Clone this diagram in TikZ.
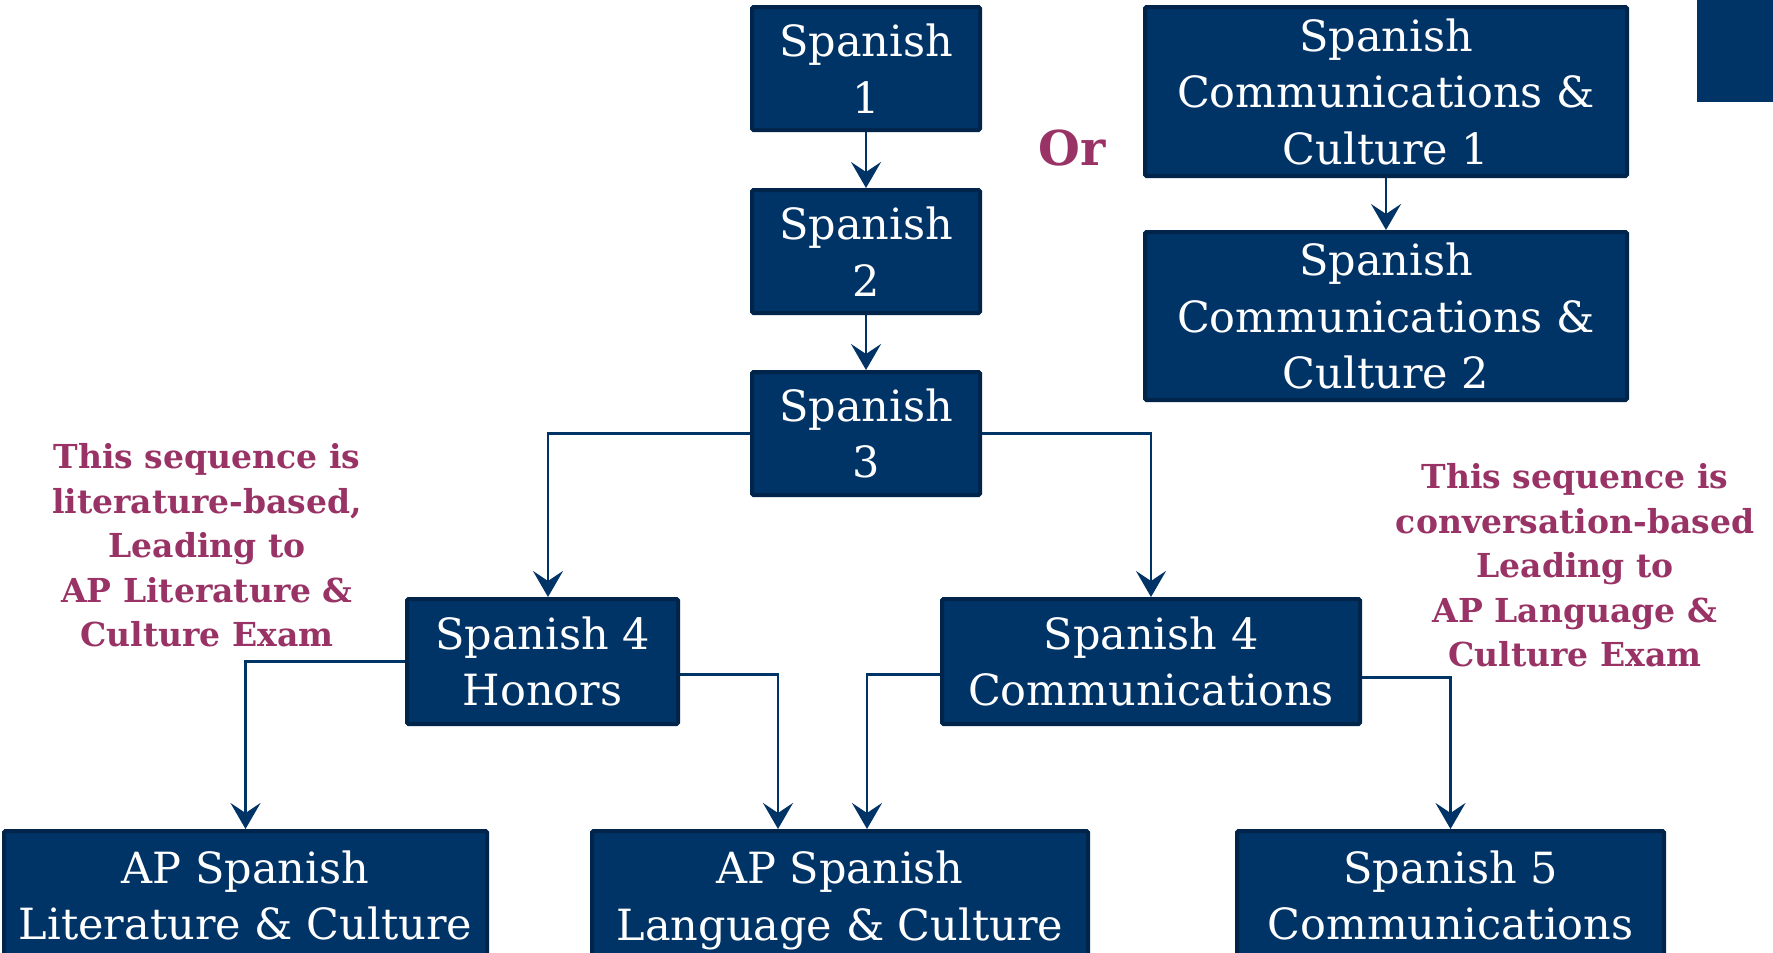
\documentclass[tikz,border=0pt]{standalone}
\usepackage{fontspec}
\setmainfont{DejaVu Serif}
\usetikzlibrary{arrows.meta}
\definecolor{navy}{RGB}{0,51,102}
\definecolor{navyedge}{RGB}{0,36,74}
\definecolor{plum}{RGB}{153,51,102}
\newcommand\nodepth[1]{\raisebox{0pt}[\height][0pt]{#1}}
\tikzset{
  course/.style={draw=navyedge, line width=4pt, fill=navy, rounded corners=1.5pt,
    text=white, align=center, inner sep=0pt,
    font=\fontsize{43}{56.5}\selectfont},
  link/.style={draw=navy, line width=2.5pt,
    -{Stealth[length=26pt,width=30pt,inset=10pt]}},
  note/.style={text=plum, align=center, font=\bfseries\fontsize{33}{44.5}\selectfont}
}
\begin{document}
\begin{tikzpicture}[x=1pt,y=-1pt]
\useasboundingbox (0,0) rectangle (1773,953);
\clip (0,0) rectangle (1773,953);
\fill[white] (0,0) rectangle (1773,953);
% corner block
\fill[navy] (1697,0) rectangle (1773,102);
% courses
\node[course, minimum width=228pt, minimum height=123pt] (s1) at (866,68.5) {Spanish\\1};
\node[course, minimum width=228pt, minimum height=123pt] (s2) at (866,251.5) {Spanish\\2};
\node[course, minimum width=228pt, minimum height=123pt] (s3) at (866,433.5) {Spanish\\3};
\node[course, minimum width=482pt, minimum height=169pt] (c1) at (1386,91.5) {Spanish\\Communications \&\\Culture 1};
\node[course, minimum width=482pt, minimum height=168pt] (c2) at (1386,316) {Spanish\\Communications \&\\Culture 2};
\node[course, minimum width=271pt, minimum height=125pt] (h4) at (542.5,661.5) {Spanish 4\\Honors};
\node[course, minimum width=418pt, minimum height=125pt] (c4) at (1151,661.5) {Spanish 4\\Communications};
\node[course, minimum width=483pt, minimum height=129pt] (apl) at (245.5,895.5) {AP Spanish\\Literature \& Culture};
\node[course, minimum width=496pt, minimum height=129pt] (apg) at (840,895.5) {AP Spanish\\\nodepth{Language \& Culture}};
\node[course, minimum width=427pt, minimum height=129pt] (s5) at (1450.5,895.5) {Spanish 5\\Communications};
% labels
\node[note, font=\bfseries\fontsize{48}{50}\selectfont] (or) at (1072,148) {Or};
\node[note] (lnote) at (207,545.5) {This sequence is\\literature-based,\\Leading to\\AP Literature \&\\Culture Exam};
\node[note] (rnote) at (1575,565.5) {This sequence is\\conversation-based\\Leading to\\AP Language \&\\Culture Exam};
% connectors
\draw[link] (s1.south) -- (s2.north);
\draw[link] (s2.south) -- (s3.north);
\draw[link] (c1.south) -- (c2.north);
\draw[link] (s3.west) -| ([xshift=5.5pt]h4.north);
\draw[link] (s3.east) -| (c4.north);
\draw[link] (h4.west) -| (apl.north);
\draw[link] ([yshift=-13pt]h4.east) -| ([xshift=-62pt]apg.north);
\draw[link] ([yshift=-13pt]c4.west) -| ([xshift=27pt]apg.north);
\draw[link] ([yshift=-16pt]c4.east) -| (s5.north);
\end{tikzpicture}
\end{document}
